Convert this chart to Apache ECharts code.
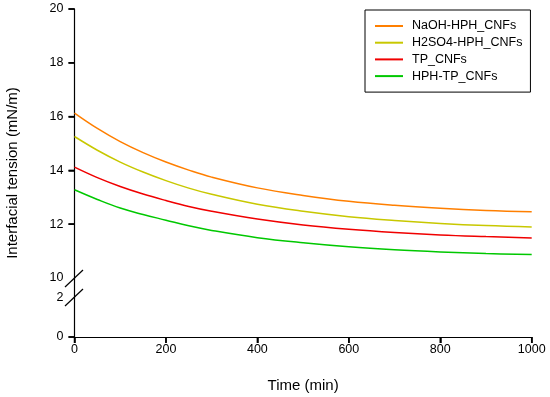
<!DOCTYPE html>
<html>
<head>
<meta charset="utf-8">
<script src="https://cdn.jsdelivr.net/npm/echarts@6/dist/echarts.min.js"></script>
<style>html,body{margin:0;padding:0;background:#fff;}#c{width:550px;height:397px;}</style>
</head>
<body>
<div id="c"></div>
<script>
var times = [0, 50, 100, 150, 200, 250, 300, 400, 500, 600, 700, 800, 900, 1000];
var naohHph = [16.13, 15.56, 15.07, 14.66, 14.31, 14.01, 13.75, 13.35, 13.07, 12.85, 12.70, 12.59, 12.51, 12.46];
var h2so4Hph = [15.26, 14.75, 14.31, 13.94, 13.62, 13.34, 13.11, 12.74, 12.48, 12.28, 12.14, 12.03, 11.95, 11.90];
var tpCnfs = [14.12, 13.73, 13.40, 13.12, 12.88, 12.66, 12.48, 12.19, 11.97, 11.81, 11.69, 11.60, 11.54, 11.49];
var hphTp = [13.28, 12.92, 12.60, 12.36, 12.15, 11.94, 11.77, 11.50, 11.31, 11.16, 11.05, 10.97, 10.91, 10.87];
var seriesNames = ['NaOH-HPH_CNFs', 'H2SO4-HPH_CNFs', 'TP_CNFs', 'HPH-TP_CNFs'];
var seriesColors = ['#FF7F00', '#C8C800', '#F00000', '#00C800'];
var upperTicks = [10, 12, 14, 16, 18, 20];
var upperTickMarks = [12, 14, 16, 18, 20];
var lowerTicks = [0, 2];
var lowerTickMarks = [0];
var xTicks = [0, 200, 400, 600, 800, 1000];

var allValues = [naohHph, h2so4Hph, tpCnfs, hphTp];
var FONT = '"Liberation Sans", Arial, sans-serif';

function pairs(vals) {
  return times.map(function (t, i) { return [t, vals[i]]; });
}

var chart = echarts.init(document.getElementById('c'), null, {renderer: 'canvas'});
var axisLine = {show: true, lineStyle: {color: '#000', width: 1.2}};
var labelStyle = {color: '#000', fontFamily: FONT, fontSize: 12.5};
var tickStyle = {show: true, inside: false, length: 6, lineStyle: {color: '#000', width: 1.5}};

var baseGraphic = [
  {type: 'text', x: 12.5, y: 173, rotation: Math.PI / 2,
   style: {text: 'Interfacial tension (mN/m)', font: '15px ' + FONT, fill: '#000',
           textAlign: 'center', textVerticalAlign: 'middle'}},
  {type: 'line', shape: {x1: 65, y1: 287, x2: 83, y2: 270}, style: {stroke: '#000', lineWidth: 1.2}},
  {type: 'line', shape: {x1: 65, y1: 306, x2: 83, y2: 289}, style: {stroke: '#000', lineWidth: 1.2}}
];

chart.setOption({
  animation: false,
  backgroundColor: '#fff',
  grid: [
    {left: 74.5, width: 457.2, top: 9, height: 269},
    {left: 74.5, width: 457.2, top: 278, height: 59}
  ],
  xAxis: [
    {gridIndex: 0, type: 'value', min: 0, max: 1000, show: false},
    {gridIndex: 1, type: 'value', min: 0, max: 1000, interval: 200,
     axisLine: axisLine,
     axisTick: tickStyle,
     axisLabel: Object.assign({margin: 6, formatter: function (v) { return String(v); }}, labelStyle),
     splitLine: {show: false},
     name: 'Time (min)', nameLocation: 'middle', nameGap: 41,
     nameTextStyle: {color: '#000', fontFamily: FONT, fontSize: 15}}
  ],
  yAxis: [
    {gridIndex: 0, type: 'value', min: 10, max: 20, interval: 2,
     axisLine: axisLine,
     axisTick: Object.assign({customValues: upperTickMarks}, tickStyle),
     axisLabel: Object.assign({margin: 11, customValues: upperTicks}, labelStyle),
     splitLine: {show: false}},
    {gridIndex: 1, type: 'value', min: 0, max: 3, interval: 1,
     axisLine: axisLine,
     axisTick: Object.assign({customValues: lowerTickMarks}, tickStyle),
     axisLabel: Object.assign({margin: 11, customValues: lowerTicks}, labelStyle),
     splitLine: {show: false}}
  ],
  legend: {
    orient: 'vertical', left: 365, top: 10,
    padding: [9, 8, 9, 10],
    borderColor: '#000', borderWidth: 1,
    icon: 'rect',
    itemWidth: 28, itemHeight: 2, itemGap: 2.7,
    textStyle: {color: '#000', fontFamily: FONT, fontSize: 12.5, lineHeight: 14, padding: [0, 0, 0, 4]},
    data: seriesNames
  },
  graphic: baseGraphic,
  series: seriesNames.map(function (n, i) {
    return {
      name: n, type: 'line', xAxisIndex: 0, yAxisIndex: 0,
      data: pairs(allValues[i]), smooth: 0.4, symbol: 'none',
      lineStyle: {color: seriesColors[i], width: 1.5}, itemStyle: {color: seriesColors[i]}
    };
  })
});

// tick marks placed through the chart's own axis scales
var tickEls = [];
xTicks.forEach(function (v) {
  var p = chart.convertToPixel({gridIndex: 1}, [v, 0]);
  tickEls.push({type: 'line', z: 100, shape: {x1: p[0], y1: p[1], x2: p[0], y2: p[1] + 6},
                style: {stroke: '#000', lineWidth: 1.5}});
});
upperTickMarks.forEach(function (v) {
  var p = chart.convertToPixel({gridIndex: 0}, [0, v]);
  tickEls.push({type: 'line', z: 100, shape: {x1: p[0] - 6, y1: p[1], x2: p[0], y2: p[1]},
                style: {stroke: '#000', lineWidth: 1.5}});
});
lowerTickMarks.forEach(function (v) {
  var p = chart.convertToPixel({gridIndex: 1}, [0, v]);
  tickEls.push({type: 'line', z: 100, shape: {x1: p[0] - 6, y1: p[1], x2: p[0], y2: p[1]},
                style: {stroke: '#000', lineWidth: 1.5}});
});
chart.setOption({graphic: baseGraphic.concat(tickEls)});
</script>
</body>
</html>
